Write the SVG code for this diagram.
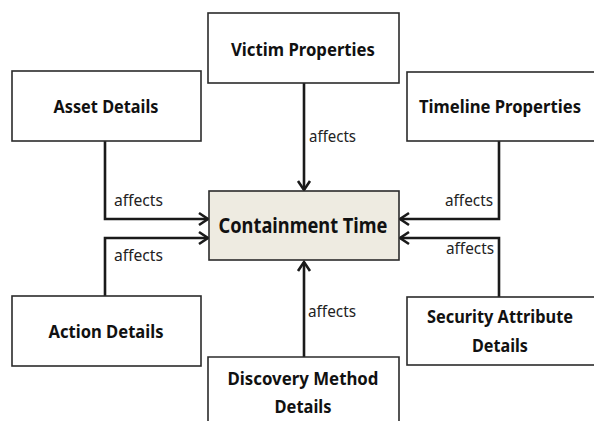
<svg xmlns="http://www.w3.org/2000/svg" width="594" height="426" viewBox="0 0 594 426">
<style>
.box{fill:#fff;stroke:#2b2b2b;stroke-width:1.6}
.main{fill:#eeebe1;stroke:#2b2b2b;stroke-width:1.6}
.t{font-family:"Noto Sans","Open Sans",sans-serif;font-weight:bold;font-size:18px;fill:#111;text-anchor:middle}
.tm{font-family:"Noto Sans","Open Sans",sans-serif;font-weight:bold;font-size:22px;fill:#111;text-anchor:middle}
.lbl{font-family:"Noto Sans","Open Sans",sans-serif;font-size:17px;fill:#222}
.c{fill:none;stroke:#1a1a1a;stroke-width:2.6}
</style>
<defs>
<marker id="arr" markerUnits="userSpaceOnUse" markerWidth="16" markerHeight="16" viewBox="0 0 16 16" refX="13" refY="8" orient="auto">
<path d="M4,2 L13,8 L4,14" fill="none" stroke="#1a1a1a" stroke-width="2.6"/>
</marker>
</defs>
<rect width="594" height="426" fill="#fff"/>
<g id="connectors">
<path class="c" d="M304,83 V190" marker-end="url(#arr)"/>
<path class="c" d="M105,141 V219 H208" marker-end="url(#arr)"/>
<path class="c" d="M105,296 V238 H208" marker-end="url(#arr)"/>
<path class="c" d="M499,141 V219 H400" marker-end="url(#arr)"/>
<path class="c" d="M499,297 V238 H400" marker-end="url(#arr)"/>
<path class="c" d="M304,357 V262" marker-end="url(#arr)"/>
<text class="lbl" x="309" y="142" textLength="47" lengthAdjust="spacingAndGlyphs">affects</text>
<text class="lbl" x="114" y="206" textLength="49" lengthAdjust="spacingAndGlyphs">affects</text>
<text class="lbl" x="114" y="261" textLength="49" lengthAdjust="spacingAndGlyphs">affects</text>
<text class="lbl" x="445" y="206" textLength="48" lengthAdjust="spacingAndGlyphs">affects</text>
<text class="lbl" x="446" y="254" textLength="48" lengthAdjust="spacingAndGlyphs">affects</text>
<text class="lbl" x="308" y="317" textLength="48" lengthAdjust="spacingAndGlyphs">affects</text>
</g>
<g id="victim">
<rect class="box" x="208" y="13" width="191" height="70"/>
<text class="t" x="303" y="56" textLength="144" lengthAdjust="spacingAndGlyphs">Victim Properties</text>
</g>
<g id="asset">
<rect class="box" x="12" y="71" width="189" height="70"/>
<text class="t" x="106" y="113" textLength="105" lengthAdjust="spacingAndGlyphs">Asset Details</text>
</g>
<g id="timeline">
<rect class="box" x="407" y="72" width="192" height="69"/>
<text class="t" x="500" y="113" textLength="162" lengthAdjust="spacingAndGlyphs">Timeline Properties</text>
</g>
<g id="containment">
<rect class="main" x="209" y="191" width="190" height="69"/>
<text class="tm" x="303" y="233" textLength="169" lengthAdjust="spacingAndGlyphs">Containment Time</text>
</g>
<g id="action">
<rect class="box" x="12" y="296" width="189" height="70"/>
<text class="t" x="106" y="338" textLength="115" lengthAdjust="spacingAndGlyphs">Action Details</text>
</g>
<g id="discovery">
<path class="box" d="M208,421 V357 H399 V421"/>
<text class="t" x="303" y="385" textLength="151" lengthAdjust="spacingAndGlyphs">Discovery Method</text>
<text class="t" x="303" y="413" textLength="57" lengthAdjust="spacingAndGlyphs">Details</text>
</g>
<g id="security">
<rect class="box" x="407" y="297" width="192" height="68"/>
<text class="t" x="500" y="323" textLength="146" lengthAdjust="spacingAndGlyphs">Security Attribute</text>
<text class="t" x="500" y="352" textLength="56" lengthAdjust="spacingAndGlyphs">Details</text>
</g>
</svg>
